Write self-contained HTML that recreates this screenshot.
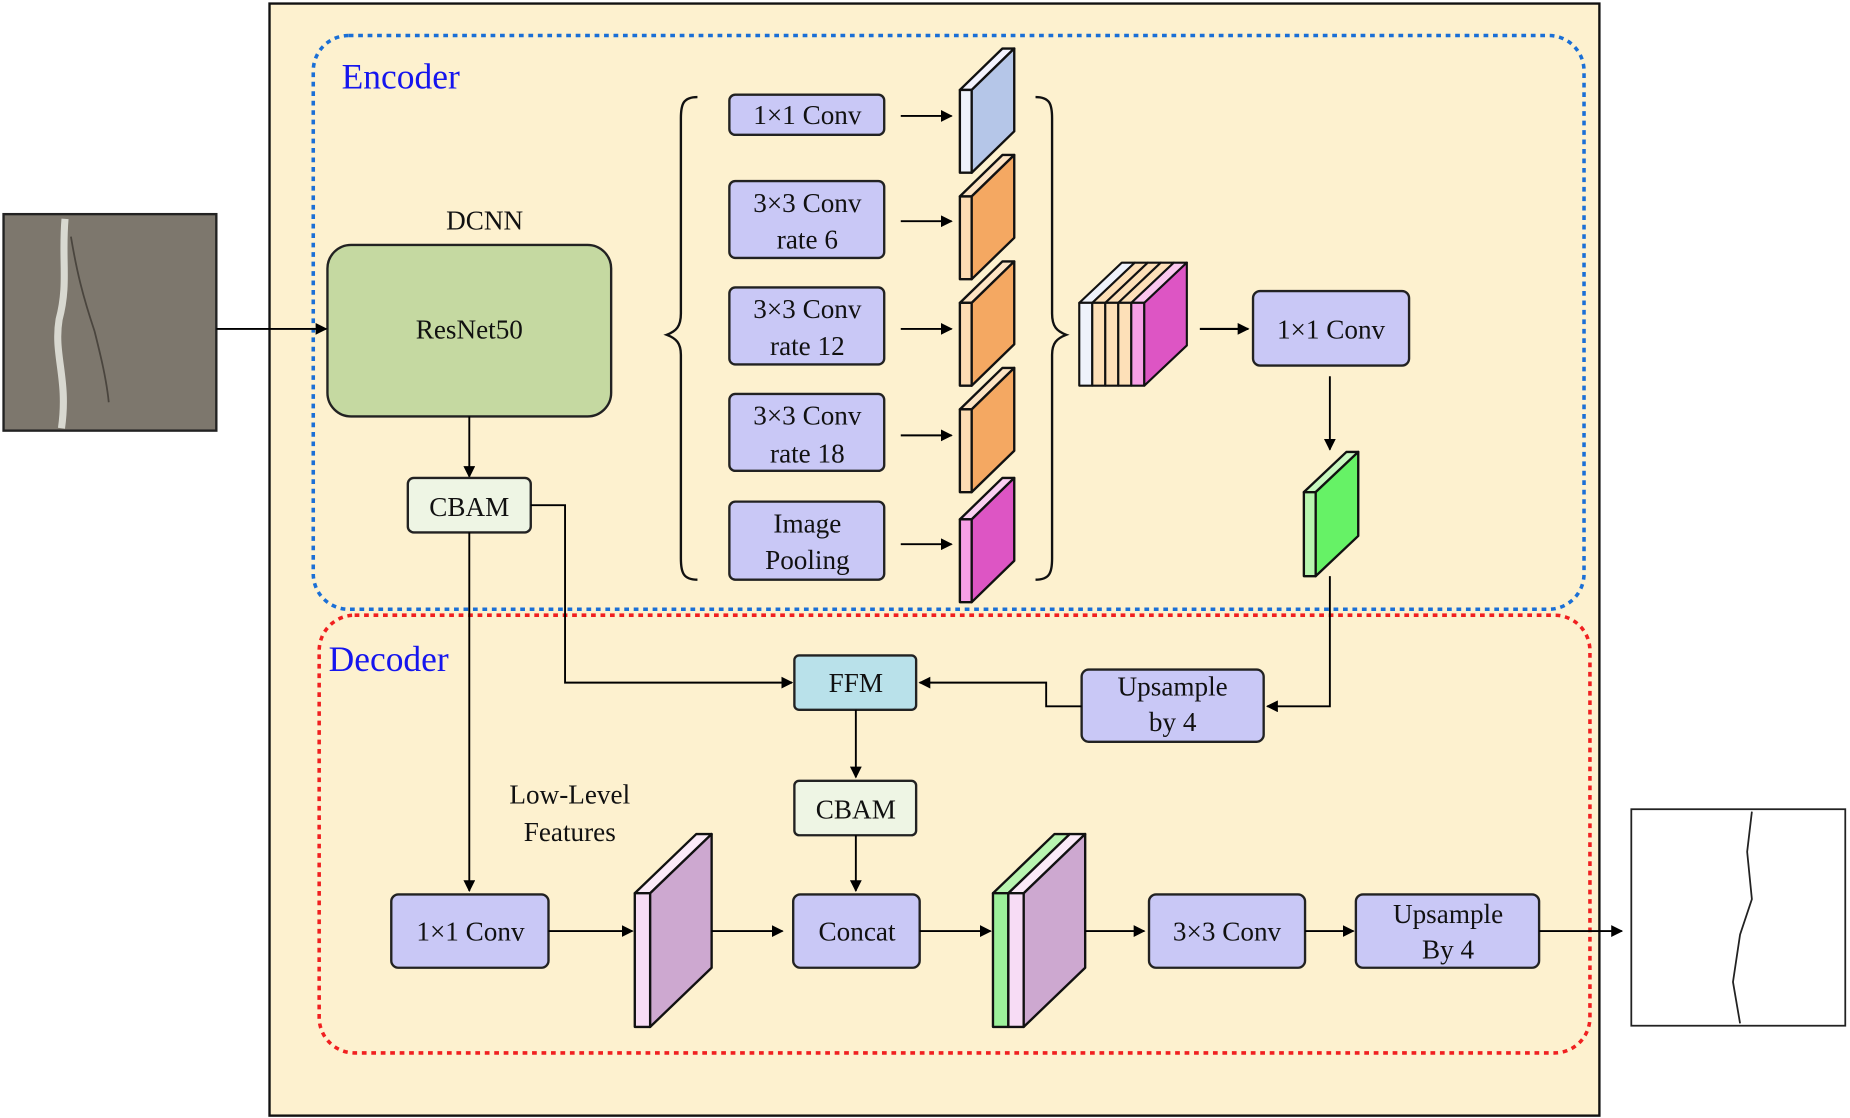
<!DOCTYPE html>
<html><head><meta charset="utf-8"><style>
html,body{margin:0;padding:0;background:#fff;}
svg{display:block;}
text{font-family:"Liberation Serif","DejaVu Serif",serif;fill:#111;}
</style></head><body>
<svg width="1850" height="1118" viewBox="0 0 1565 945" preserveAspectRatio="none" xmlns="http://www.w3.org/2000/svg">
<defs>
<marker id="a" markerWidth="10" markerHeight="10" refX="9" refY="5" orient="auto" markerUnits="userSpaceOnUse"><path d="M0,0 L10,5 L0,10 z" fill="#000"/></marker>
</defs>
<rect x="228" y="3" width="1125" height="940" fill="#fdf1cf" stroke="#111" stroke-width="2"/>
<rect x="3" y="181" width="180" height="183" fill="#7d776d" stroke="#222" stroke-width="2"/>
<path d="M55,185 C52,220 58,240 50,270 C45,300 58,320 52,362" stroke="#d8d8d0" stroke-width="6" fill="none"/>
<path d="M60,200 C65,230 70,250 80,280 C85,300 90,320 92,340" stroke="#4a453e" stroke-width="1.5" fill="none"/>
<rect x="1380" y="684" width="181" height="183" fill="#fff" stroke="#222" stroke-width="1.5"/>
<path d="M1482,686 L1478,720 L1482,760 L1472,790 L1466,830 L1472,865" stroke="#222" stroke-width="1.5" fill="none"/>
<rect x="265" y="30" width="1075" height="485" rx="30" fill="none" stroke="#1a6fd6" stroke-width="3" stroke-dasharray="4,4"/>
<rect x="270" y="520" width="1075" height="370" rx="30" fill="none" stroke="#f02020" stroke-width="3" stroke-dasharray="4,4"/>
<text x="289" y="75" font-size="30" style="fill:#1515ee">Encoder</text>
<text x="278" y="567" font-size="30" style="fill:#1515ee">Decoder</text>
<text x="410" y="194" font-size="23" text-anchor="middle">DCNN</text>
<rect x="277" y="207" width="240" height="145" rx="20" fill="#c5d9a1" stroke="#222" stroke-width="2"/>
<text x="397" y="286" font-size="23" text-anchor="middle">ResNet50</text>
<line x1="183" y1="278" x2="276" y2="278" stroke="#000" stroke-width="1.6" marker-end="url(#a)"/>
<line x1="397" y1="352" x2="397" y2="403" stroke="#000" stroke-width="1.6" marker-end="url(#a)"/>
<rect x="345" y="404" width="104" height="46" rx="5" fill="#eef5e4" stroke="#222" stroke-width="2"/>
<text x="397" y="436" font-size="23" text-anchor="middle">CBAM</text>
<path d="M590,82 C578,82 576,88 576,100 L576,265 C576,276 572,280 564,283 C572,286 576,290 576,300 L576,472 C576,484 578,490 590,490" fill="none" stroke="#111" stroke-width="2"/>
<path d="M876,82 C888,82 890,88 890,100 L890,265 C890,276 894,280 902,283 C894,286 890,290 890,300 L890,472 C890,484 888,490 876,490" fill="none" stroke="#111" stroke-width="2"/>
<g fill="#c9c8f6" stroke="#222" stroke-width="2">
<rect x="617" y="80" width="131" height="34" rx="5"/>
<rect x="617" y="153" width="131" height="65" rx="5"/>
<rect x="617" y="243" width="131" height="65" rx="5"/>
<rect x="617" y="333" width="131" height="65" rx="5"/>
<rect x="617" y="424" width="131" height="66" rx="5"/>
</g>
<g font-size="23" text-anchor="middle">
<text x="683" y="105">1×1 Conv</text>
<text x="683" y="179">3×3 Conv</text><text x="683" y="210">rate 6</text>
<text x="683" y="269">3×3 Conv</text><text x="683" y="300">rate 12</text>
<text x="683" y="359">3×3 Conv</text><text x="683" y="391">rate 18</text>
<text x="683" y="450">Image</text><text x="683" y="481">Pooling</text>
</g>
<g stroke="#000" stroke-width="1.6" marker-end="url(#a)">
<line x1="762" y1="98" x2="805" y2="98"/>
<line x1="762" y1="187" x2="805" y2="187"/>
<line x1="762" y1="278" x2="805" y2="278"/>
<line x1="762" y1="368" x2="805" y2="368"/>
<line x1="762" y1="460" x2="805" y2="460"/>
</g>
<g stroke="#111" stroke-width="2" stroke-linejoin="round">
<polygon points="812,76 848,41 858,41 822,76" fill="#f4f4ff"/><rect x="812" y="76" width="10" height="70" fill="#eef2fb"/><polygon points="822,76 858,41 858,111 822,146" fill="#b5c6e8"/>
<polygon points="812,166 848,131 858,131 822,166" fill="#fde4c4"/><rect x="812" y="166" width="10" height="70" fill="#fddcb4"/><polygon points="822,166 858,131 858,201 822,236" fill="#f4a862"/>
<polygon points="812,256 848,221 858,221 822,256" fill="#fde4c4"/><rect x="812" y="256" width="10" height="70" fill="#fddcb4"/><polygon points="822,256 858,221 858,291 822,326" fill="#f4a862"/>
<polygon points="812,346 848,311 858,311 822,346" fill="#fde4c4"/><rect x="812" y="346" width="10" height="70" fill="#fddcb4"/><polygon points="822,346 858,311 858,381 822,416" fill="#f4a862"/>
<polygon points="812,439 848,404 858,404 822,439" fill="#fbd0f2"/><rect x="812" y="439" width="10" height="70" fill="#f7a0e6"/><polygon points="822,439 858,404 858,474 822,509" fill="#dd55c4"/>
</g>
<g stroke="#111" stroke-width="1.8" stroke-linejoin="round">
<polygon points="913,256 949,222 960,222 924,256" fill="#eef2fb"/><rect x="913" y="256" width="11" height="70" fill="#eef2fb"/>
<polygon points="924,256 960,222 971,222 935,256" fill="#fde0b8"/><rect x="924" y="256" width="11" height="70" fill="#fde0b8"/>
<polygon points="935,256 971,222 982,222 946,256" fill="#fde0b8"/><rect x="935" y="256" width="11" height="70" fill="#fde0b8"/>
<polygon points="946,256 982,222 993,222 957,256" fill="#fde0b8"/><rect x="946" y="256" width="11" height="70" fill="#fde0b8"/>
<polygon points="957,256 993,222 1004,222 968,256" fill="#fbc8ef"/><rect x="957" y="256" width="11" height="70" fill="#f7a0e6"/>
<polygon points="968,256 1004,222 1004,292 968,326" fill="#dd55c4"/>
</g>
<line x1="1015" y1="278" x2="1056" y2="278" stroke="#000" stroke-width="1.8" marker-end="url(#a)"/>
<rect x="1060" y="246" width="132" height="63" rx="6" fill="#c9c8f6" stroke="#222" stroke-width="2"/>
<text x="1126" y="286" font-size="23" text-anchor="middle">1×1 Conv</text>
<line x1="1125" y1="318" x2="1125" y2="380" stroke="#000" stroke-width="1.6" marker-end="url(#a)"/>
<g stroke="#111" stroke-width="2" stroke-linejoin="round">
<polygon points="1103,416 1139,382 1149,382 1113,416" fill="#c8f8c0"/><rect x="1103" y="416" width="10" height="71" fill="#b8f5b0"/><polygon points="1113,416 1149,382 1149,453 1113,487" fill="#66f266"/>
</g>
<polyline points="1125,487 1125,597 1072,597" fill="none" stroke="#000" stroke-width="1.6" marker-end="url(#a)"/>
<rect x="915" y="566" width="154" height="61" rx="6" fill="#c9c8f6" stroke="#222" stroke-width="2"/>
<text x="992" y="588" font-size="23" text-anchor="middle">Upsample</text><text x="992" y="618" font-size="23" text-anchor="middle">by 4</text>
<polyline points="915,597 885,597 885,577 778,577" fill="none" stroke="#000" stroke-width="1.6" marker-end="url(#a)"/>
<polyline points="449,427 478,427 478,577 670,577" fill="none" stroke="#000" stroke-width="1.6" marker-end="url(#a)"/>
<rect x="672" y="554" width="103" height="46" rx="4" fill="#b9e1ea" stroke="#222" stroke-width="2"/>
<text x="724" y="585" font-size="23" text-anchor="middle">FFM</text>
<line x1="724" y1="600" x2="724" y2="657" stroke="#000" stroke-width="1.6" marker-end="url(#a)"/>
<rect x="672" y="660" width="103" height="46" rx="4" fill="#eef5e4" stroke="#222" stroke-width="2"/>
<text x="724" y="692" font-size="23" text-anchor="middle">CBAM</text>
<line x1="724" y1="706" x2="724" y2="753" stroke="#000" stroke-width="1.6" marker-end="url(#a)"/>
<line x1="397" y1="450" x2="397" y2="753" stroke="#000" stroke-width="1.6" marker-end="url(#a)"/>
<text x="482" y="679" font-size="23" text-anchor="middle">Low-Level</text>
<text x="482" y="711" font-size="23" text-anchor="middle">Features</text>
<g fill="#c9c8f6" stroke="#222" stroke-width="2">
<rect x="331" y="756" width="133" height="62" rx="6"/>
<rect x="671" y="756" width="107" height="62" rx="6"/>
<rect x="972" y="756" width="132" height="62" rx="6"/>
<rect x="1147" y="756" width="155" height="62" rx="6"/>
</g>
<g font-size="23" text-anchor="middle">
<text x="398" y="795">1×1 Conv</text>
<text x="725" y="795">Concat</text>
<text x="1038" y="795">3×3 Conv</text>
<text x="1225" y="780">Upsample</text><text x="1225" y="810">By 4</text>
</g>
<g stroke="#111" stroke-width="2" stroke-linejoin="round">
<polygon points="537,755 589,705 602,705 550,755" fill="#fbeaf8"/><rect x="537" y="755" width="13" height="113" fill="#f7dcf5"/><polygon points="550,755 602,705 602,818 550,868" fill="#cda8d0"/>
<polygon points="840,755 892,705 905,705 853,755" fill="#b8f5b0"/><rect x="840" y="755" width="13" height="113" fill="#9cf09a"/>
<polygon points="853,755 905,705 918,705 866,755" fill="#fbeaf8"/><rect x="853" y="755" width="13" height="113" fill="#f7dcf5"/><polygon points="866,755 918,705 918,818 866,868" fill="#cda8d0"/>
</g>
<g stroke="#000" stroke-width="1.6" marker-end="url(#a)">
<line x1="464" y1="787" x2="535" y2="787"/>
<line x1="602" y1="787" x2="662" y2="787"/>
<line x1="778" y1="787" x2="838" y2="787"/>
<line x1="918" y1="787" x2="968" y2="787"/>
<line x1="1104" y1="787" x2="1145" y2="787"/>
<line x1="1302" y1="787" x2="1372" y2="787"/>
</g>
</svg>
</body></html>
